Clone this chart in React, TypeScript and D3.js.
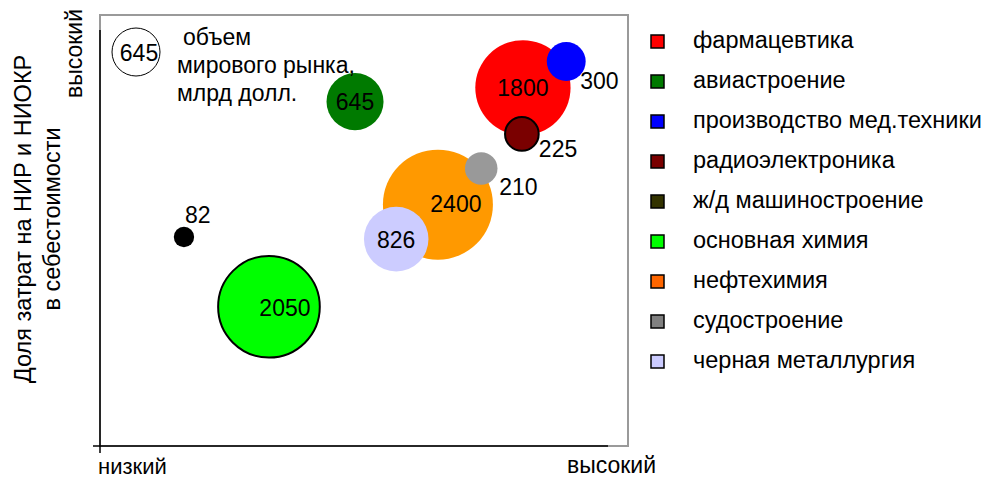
import React, { useEffect, useRef } from 'react';
import * as d3 from 'd3';

const W = 984;
const H = 479;
const margin = { top: 15, right: 356, bottom: 33, left: 100 };
const plotW = W - margin.left - margin.right;
const plotH = H - margin.top - margin.bottom;

// qualitative positions on a 0..10 scale (низкий -> высокий)
const industries = [
  'фармацевтика',
  'авиастроение',
  'производство мед.техники',
  'радиоэлектроника',
  'ж/д машиностроение',
  'основная химия',
  'нефтехимия',
  'судостроение',
  'черная металлургия',
];
const xValues = [8.01, 4.83, 8.83, 7.99, 1.59, 3.2, 6.4, 7.22, 5.61];
const yValues = [8.31, 7.99, 8.92, 7.24, 4.85, 3.23, 5.6, 6.44, 4.8];
const marketSize = [1800, 645, 300, 225, 82, 2050, 2400, 210, 826];
const bubbleColors = ['#ff0000', '#007a00', '#0000ff', '#7a0000', '#000000', '#00ff00', '#ff9900', '#999999', '#ccccff'];
const legendColors = ['#ff0000', '#007a00', '#0000ff', '#7a0000', '#333300', '#00ff00', '#ff6600', '#808080', '#ccccff'];
const outlined = [false, false, false, true, false, true, false, false, false];
// label offsets from bubble centre (px), anchor
const labelDx = [0, 0, 14, 17, 1, 16, 18, 18, 0];
const labelDy = [8, 8, 27, 23, -14, 9, 7, 27, 9];
const labelAnchor = ['middle', 'middle', 'start', 'start', 'start', 'middle', 'middle', 'start', 'middle'];

const FONT = 'Arial, "Liberation Sans", sans-serif';

const App = () => {
  const ref = useRef<SVGSVGElement>(null);

  useEffect(() => {
    const svg = d3.select(ref.current);
    svg.selectAll('*').remove();

    const x = d3.scaleLinear().domain([0, 10]).range([margin.left, margin.left + plotW]);
    const y = d3.scaleLinear().domain([0, 10]).range([margin.top + plotH, margin.top]);
    const r = d3.scaleSqrt().domain([0, 2400]).range([0, 55]);

    const bottom = margin.top + plotH;

    // grey frame
    svg.append('rect')
      .attr('x', margin.left).attr('y', margin.top)
      .attr('width', plotW).attr('height', plotH)
      .attr('fill', 'none').attr('stroke', '#9a9a9a').attr('stroke-width', 2);

    // black axes
    svg.append('line')
      .attr('x1', margin.left).attr('x2', margin.left)
      .attr('y1', 30).attr('y2', bottom + 7)
      .attr('stroke', '#000').attr('stroke-width', 1.5);
    svg.append('line')
      .attr('x1', margin.left - 7).attr('x2', 608)
      .attr('y1', bottom).attr('y2', bottom)
      .attr('stroke', '#000').attr('stroke-width', 1.5);

    const data = industries.map((name, i) => ({
      name, x: xValues[i], y: yValues[i], v: marketSize[i], i,
    }));

    const g = svg.append('g');
    g.selectAll('circle')
      .data(data)
      .enter()
      .append('circle')
      .attr('cx', (d) => x(d.x))
      .attr('cy', (d) => y(d.y))
      .attr('r', (d) => r(d.v))
      .attr('fill', (d) => bubbleColors[d.i])
      .attr('stroke', (d) => (outlined[d.i] ? '#000' : 'none'))
      .attr('stroke-width', 2);

    g.selectAll('text.val')
      .data(data)
      .enter()
      .append('text')
      .attr('class', 'val')
      .attr('x', (d) => x(d.x) + labelDx[d.i])
      .attr('y', (d) => y(d.y) + labelDy[d.i])
      .attr('text-anchor', (d) => labelAnchor[d.i])
      .attr('font-family', FONT)
      .attr('font-size', 23)
      .attr('fill', '#000')
      .text((d) => d.v);

    // size key
    svg.append('circle')
      .attr('cx', 136).attr('cy', 52).attr('r', 24)
      .attr('fill', '#fff').attr('stroke', '#000').attr('stroke-width', 1);
    svg.append('text')
      .attr('x', 139).attr('y', 61)
      .attr('text-anchor', 'middle')
      .attr('font-family', FONT).attr('font-size', 23)
      .text('645');
    const keyText = svg.append('text')
      .attr('font-family', FONT).attr('font-size', 23);
    [['объем', 183, 45], ['мирового рынка,', 177, 73], ['млрд долл.', 177, 101]].forEach(([t, tx, ty]) => {
      keyText.append('tspan').attr('x', tx as number).attr('y', ty as number).text(t as string);
    });

    // axis words
    svg.append('text')
      .attr('x', 98).attr('y', 474)
      .attr('font-family', FONT).attr('font-size', 22)
      .text('низкий');
    svg.append('text')
      .attr('x', 567).attr('y', 473)
      .attr('font-family', FONT).attr('font-size', 23)
      .text('высокий');
    svg.append('text')
      .attr('transform', 'translate(82,98) rotate(-90)')
      .attr('font-family', FONT).attr('font-size', 23)
      .text('высокий');

    const yTitle = svg.append('text')
      .attr('transform', 'translate(0,219) rotate(-90)')
      .attr('text-anchor', 'middle')
      .attr('font-family', FONT).attr('font-size', 23.5);
    yTitle.append('tspan').attr('x', 0).attr('y', 31).text('Доля затрат на НИР и НИОКР');
    yTitle.append('tspan').attr('x', 0).attr('y', 60).text('в себестоимости');

    // legend
    const leg = svg.append('g').attr('transform', 'translate(651,35)');
    const rows = leg.selectAll('g')
      .data(data)
      .enter()
      .append('g')
      .attr('transform', (d) => `translate(0,${d.i * 40})`);
    rows.append('rect')
      .attr('width', 13).attr('height', 13)
      .attr('fill', (d) => legendColors[d.i])
      .attr('stroke', '#000').attr('stroke-width', 1.5);
    rows.append('text')
      .attr('x', 42).attr('y', 13)
      .attr('font-family', FONT).attr('font-size', 23.5)
      .text((d) => d.name);
  }, []);

  return (
    <svg
      ref={ref}
      width={W}
      height={H}
      style={{ position: 'absolute', left: 0, top: 0, background: '#fff' }}
    />
  );
};

export default App;
